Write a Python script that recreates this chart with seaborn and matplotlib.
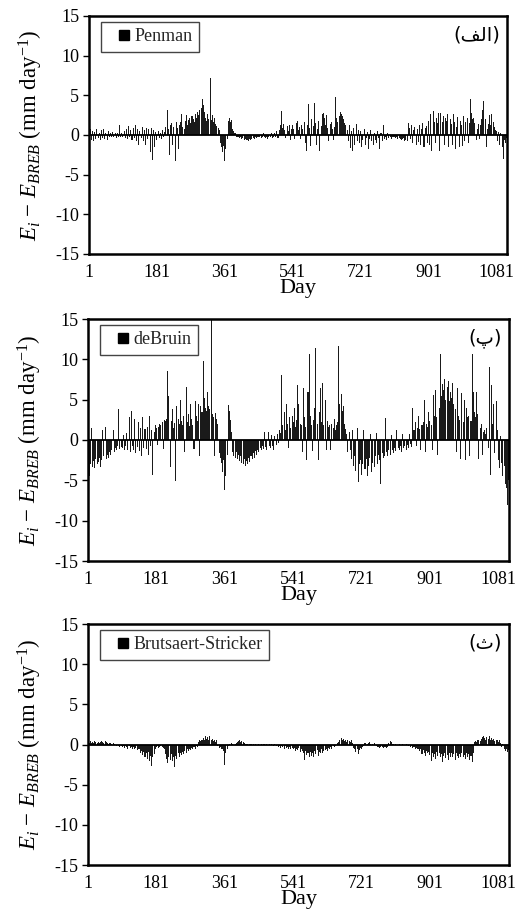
import numpy as np
import pandas as pd
import matplotlib
matplotlib.use("Agg")
import matplotlib.pyplot as plt
import seaborn as sns
from matplotlib.lines import Line2D

# ---- data: one value every 3 days (day 1, 4, 7, ...) ----
penman = [
    -1.5, 0.8, -0.6, 0.5, -0.7, 0.4, -0.5, 0.7, -0.4, 0.3,
    -0.6, 0.6, -0.4, 0.7, -0.5, 0.3, -0.6, 0.5, -0.3, 0.2,
    -0.3, 0.4, -0.2, 0.3, -0.4, 0.2, -0.3, 1.3, -0.2, 0.3,
    -0.3, 0.5, -0.4, 0.8, -0.5, 1.1, -0.3, 0.6, -0.6, 0.9,
    -0.4, 1.3, -0.7, 0.8, -1.3, 0.5, -0.4, 1.0, -0.8, 0.6,
    -1.2, 0.9, -0.5, 0.7, -2.1, 0.9, -3.2, 0.6, -1.5, 0.4,
    -0.6, 0.5, -0.4, 0.3, -0.5, 0.6, -0.3, 0.4, 1.0, 3.2,
    0.8, -2.5, 1.2, 1.5, -1.2, 1.0, -3.3, 1.6, 0.9, -1.8,
    1.2, 1.6, 2.6, 1.0, 0.8, 1.8, 2.5, 1.3, 1.9, 2.2,
    1.5, 2.4, 2.0, 1.7, 2.6, 2.1, 2.9, 2.5, 3.1, 3.4,
    4.6, 3.8, 2.9, 2.2, 1.8, 2.6, 2.0, 7.2, 1.9, 2.5,
    1.6, 2.2, 1.4, 1.1, 0.9, 0.6, -1.0, -1.5, -2.2, -1.4,
    -3.3, -1.8, -0.5, 1.8, 2.1, 1.6, 1.9, 0.8, 0.5, 0.2,
    -0.2, -0.3, -0.2, -0.4, -0.3, -0.5, -0.4, -0.6, -0.5, -0.6,
    -0.6, -0.7, -0.5, -0.6, -0.5, -0.4, -0.5, -0.3, -0.4, -0.3,
    -0.3, -0.2, -0.4, -0.3, 0.3, -0.2, -0.4, -0.3, -0.5, -0.2,
    -0.3, 0.2, -0.4, -0.2, 0.3, -0.3, 0.5, -0.4, 0.6, 1.2,
    3.0, 0.9, 1.4, 0.6, -0.4, 1.1, 0.5, 1.3, -0.6, 0.8,
    1.2, 0.7, -0.5, 1.5, 1.8, 0.6, 1.0, -0.5, 1.3, 0.7,
    1.6, -1.0, -2.0, 1.2, 3.9, 0.9, -1.4, 2.0, 1.1, 4.0,
    1.5, -1.2, 0.8, 1.8, -2.0, 1.1, 2.6, 2.8, 2.2, 1.2,
    2.5, 0.9, -0.8, 1.4, 1.6, 0.8, -0.6, 1.0, 4.8, 2.1,
    1.6, 2.4, 2.9, 2.7, 2.4, 2.0, 1.5, 1.2, 0.6, -0.8,
    1.3, -1.6, 0.5, -2.0, 0.9, -1.2, 1.4, -0.7, 0.6, -1.0,
    0.5, -1.5, -0.6, 0.8, -1.2, -0.4, 0.4, -1.8, -0.5, 0.6,
    -0.8, -1.3, 0.3, -0.6, -1.0, 0.5, -0.4, -1.8, 0.3, -0.7,
    1.2, -0.5, -0.3, -0.6, 0.3, -0.4, -0.3, -0.5, -0.2, -0.3,
    -0.3, -0.4, -0.3, -0.5, -0.4, -0.5, -0.6, -0.5, -0.4, -0.7,
    -0.6, -0.8, 1.5, 0.9, -0.5, 1.2, -1.0, 0.6, 1.0, -1.3,
    0.8, -0.9, 1.2, -1.2, 0.7, 1.5, -1.5, 0.9, 1.1, -1.0,
    1.8, -1.2, 2.7, -2.0, 3.0, 1.6, -1.0, 2.2, 1.5, 2.8,
    -2.0, 2.8, 1.7, 2.4, -1.3, 2.1, 1.8, 2.6, -1.5, 2.0,
    1.4, -1.2, 2.7, 1.6, -1.8, 1.0, 2.3, -1.5, 1.8, 1.2,
    -1.4, 2.4, -0.8, 1.6, 2.2, -1.0, 1.5, 4.5, 2.8, 2.0,
    2.2, 1.5, -0.6, 0.8, 1.4, -0.5, 1.2, 2.0, 3.2, 4.3,
    2.0, -1.5, 0.8, 1.4, 2.5, 1.2, 2.6, 1.6, 1.0, 0.6,
    0.5, -0.8, 0.4, -1.2, 0.3, -1.5, -3.0, -0.6, -1.0, -0.4,
]

debruin = [
    -5.8, -4.5, -3.0, 1.5, -3.3, -2.6, -3.5, -2.4, -3.0, -2.7,
    -2.2, -3.3, -2.5, 1.3, -2.0, 1.6, -2.4, -1.8, -2.2, -1.5,
    -1.8, -1.2, 1.2, -1.5, -1.0, -1.3, -0.8, 3.9, -1.1, -0.9,
    -1.0, 0.6, -1.3, -0.7, 0.9, -1.2, 2.8, -1.5, 3.6, -0.8,
    -1.2, 2.6, -1.6, -0.9, 2.2, -1.4, 1.5, -2.0, 2.8, -1.0,
    1.4, -1.1, 1.6, -1.8, 3.0, -0.8, 1.2, -4.3, 1.0, 1.8,
    1.5, -0.6, 1.6, 2.0, 1.8, 2.2, -1.1, 2.5, 2.4, 2.6,
    8.6, 5.5, -3.4, 2.4, 3.8, 1.5, 2.1, -5.1, 4.2, 2.6,
    2.0, 5.0, 2.4, 1.8, 3.0, -1.5, 6.6, 2.2, 3.2, 1.7,
    4.5, 2.6, 1.8, -1.1, 4.8, 3.0, 2.4, 4.5, -2.0, 4.2,
    3.5, 9.8, 5.2, 4.0, 3.6, 6.0, 4.2, 3.8, 15.0, 3.2,
    2.8, -2.0, 3.4, 2.6, 2.0, -1.6, -2.2, -2.8, -4.0, -2.5,
    -6.2, -4.5, -1.8, 4.3, 3.6, 2.5, 1.0, -1.5, -2.0, -2.2,
    -1.5, -2.4, -1.8, -2.6, -2.0, -2.8, -3.0, -2.4, -3.2, -2.6,
    -3.0, -2.2, -2.7, -2.0, -2.4, -1.6, -2.2, -1.4, -1.8, -1.2,
    -1.5, -1.0, -1.3, -0.8, -1.1, 1.0, -0.9, -1.2, 1.0, -0.7,
    -1.0, 0.6, -0.8, -1.2, 0.5, -0.6, 0.8, -0.4, 1.2, 0.9,
    8.0, 1.8, 3.5, 1.2, 4.5, 2.0, -1.0, 2.8, 1.5, 3.0,
    2.2, 4.0, 1.6, 2.5, 6.8, 4.5, 2.0, 1.8, -1.5, 6.4,
    2.8, 1.6, -2.5, 6.0, 10.7, 3.0, 1.8, -1.4, 2.5, 4.0,
    11.4, 2.0, -2.5, 3.5, 6.4, 2.2, 7.1, 1.8, 5.0, -1.3,
    2.4, 1.6, 1.8, -1.2, 2.0, 1.5, 2.6, 1.2, 1.8, 2.2,
    11.7, 4.5, 5.7, 3.6, 4.2, 2.0, 1.4, 0.8, -1.5, 1.0,
    -1.2, -2.4, 1.2, -3.2, -2.0, -3.8, 1.5, -5.2, -3.0, -2.5,
    -4.3, -3.0, 1.3, -3.6, -2.4, -4.5, -3.2, -2.2, 0.8, -4.0,
    -2.8, -3.4, -2.0, 0.9, -3.0, -1.8, -2.5, -5.4, -1.6, -2.2,
    -2.0, 2.7, -1.5, -2.0, -1.3, -1.8, 0.6, -1.2, -1.6, -1.0,
    -1.4, 1.3, -1.0, -1.2, -0.8, -1.5, 0.7, -1.0, -0.8, -1.2,
    -0.6, -1.0, 0.8, -0.5, -0.9, 4.0, 1.2, 2.2, -0.8, 1.5,
    3.0, 1.4, -1.2, 1.8, 2.2, 5.0, -1.5, 2.0, 1.6, 3.5,
    2.4, 1.8, -1.3, 5.6, 3.0, 6.2, 2.8, -1.8, 4.0, 10.6,
    5.5, 7.0, 6.2, 7.6, 5.0, 6.6, 7.3, 4.8, 6.0, 5.2,
    7.1, 4.5, 3.8, -1.5, 6.5, 3.0, 2.5, -2.4, 5.8, 2.2,
    5.0, -2.5, 4.0, 2.8, 3.0, -2.0, 2.4, 10.7, 6.0, 3.5,
    2.8, 6.0, 3.2, -2.4, 1.5, 2.0, -1.8, 1.0, 1.2, 0.8,
    1.5, -1.0, 9.0, -4.3, 6.8, 2.0, 4.5, -1.6, 4.8, 1.2,
    -2.5, -3.5, 0.5, -2.8, -4.5, -3.2, -5.5, -6.0, -8.0, -5.0,
]

brutsaert = [
    0.3, 0.2, 0.4, 0.2, 0.3, 0.2, 0.4, 0.3, 0.2, 0.3,
    0.2, 0.3, 0.4, 0.3, 0.2, 0.4, 0.3, 0.2, 0.1, 0.2,
    0.2, 0.1, 0.2, 0.1, -0.1, -0.2, -0.1, -0.2, -0.3, -0.2,
    -0.3, -0.2, -0.4, -0.2, -0.3, -0.5, -0.2, -0.4, -0.3, -0.6,
    -0.3, -0.5, -0.4, -0.7, -0.5, -0.6, -1.0, -0.8, -1.3, -0.9,
    -1.5, -1.1, -1.8, -0.9, -2.0, -1.4, -2.7, -1.6, -1.2, -0.6,
    -0.3, -0.2, -0.4, -0.3, -0.2, -0.3, -0.4, -0.6, -1.2, -1.8,
    -2.3, -1.5, -1.9, -1.2, -2.0, -1.6, -2.8, -1.4, -1.8, -1.1,
    -1.6, -1.0, -1.3, -0.9, -1.2, -0.8, -1.0, -0.6, -0.8, -0.5,
    -0.7, -0.4, -0.6, -0.3, -0.5, -0.2, -0.3, 0.3, 0.5, 0.4,
    0.6, 0.8, 0.5, 1.1, 0.7, 0.9, 0.6, 1.0, 0.5, 0.7,
    0.4, 0.6, 0.3, 0.5, -0.2, -0.4, -0.3, -0.5, -0.6, -0.8,
    -2.6, -1.0, -0.5, -0.2, 0.1, -0.1, 0.2, 0.1, -0.1, 0.1,
    0.2, 0.3, 0.4, 0.5, 0.3, 0.4, 0.3, 0.2, 0.1, 0.1,
    0.1, -0.1, 0.1, 0.1, -0.1, 0.1, -0.1, 0.1, 0.0, -0.1,
    0.1, -0.1, 0.1, -0.1, 0.1, 0.1, -0.1, 0.1, -0.1, 0.1,
    -0.1, 0.1, -0.1, -0.2, 0.1, -0.2, -0.1, -0.3, -0.2, -0.4,
    -0.2, -0.3, -0.5, -0.2, -0.4, -0.3, -0.6, -0.3, -0.5, -0.4,
    -0.6, -0.4, -0.8, -0.5, -0.7, -0.4, -0.9, -0.6, -0.8, -1.0,
    -1.9, -0.8, -1.3, -1.0, -1.6, -0.9, -1.4, -1.1, -1.5, -0.8,
    -1.2, -0.7, -1.4, -0.9, -1.1, -0.6, -1.0, -0.8, -0.7, -0.5,
    -0.8, -0.4, -0.6, -0.3, -0.5, -0.2, -0.3, -0.2, -0.1, 0.2,
    0.3, 0.5, 0.8, 0.6, 0.7, 0.4, 0.5, 0.3, 0.6, 0.4,
    0.3, 0.5, 0.2, -0.4, -0.6, -0.9, -0.5, -1.2, -0.7, -0.4,
    -0.6, -0.3, -0.2, 0.2, -0.1, 0.1, 0.2, 0.3, 0.1, -0.1,
    0.1, 0.2, -0.1, -0.2, -0.3, -0.3, -0.4, -0.3, -0.3, -0.4,
    -0.3, -0.3, -0.4, -0.3, 0.2, 0.4, 0.3, 0.1, 0.1, -0.1,
    0.1, 0.0, -0.1, 0.1, 0.0, -0.1, 0.1, -0.1, 0.0, 0.1,
    -0.1, -0.2, -0.1, -0.3, -0.2, -0.4, -0.3, -0.5, -0.4, -0.6,
    -0.5, -0.8, -0.6, -1.2, -0.7, -1.0, -1.4, -0.8, -1.1, -0.9,
    -1.3, -2.0, -1.0, -1.5, -1.2, -1.8, -0.9, -1.4, -1.1, -1.6,
    -1.2, -2.2, -1.4, -1.0, -1.7, -1.3, -1.9, -1.1, -1.5, -1.0,
    -1.6, -1.2, -1.9, -1.0, -1.4, -1.7, -1.2, -1.5, -1.0, -1.6,
    -1.3, -1.8, -1.1, -1.5, -1.2, -1.9, -1.4, -2.2, -1.0, 0.3,
    0.4, 0.3, 0.5, 0.6, 0.4, 0.7, 0.9, 1.05, 0.8, 0.6,
    0.9, 0.7, 1.0, 0.6, 0.8, 0.5, 0.7, 0.4, 0.6, 0.5,
    0.3, 0.5, 0.2, -0.3, 0.1, -0.5, -0.8, -0.6, -0.9, -0.7,
]

series_names = ["Penman", "deBruin", "Brutsaert-Stricker"]
# Persian panel tags, written in visual (left-to-right) order with joined forms
panel_tags = ["(\uFED2\uFEDF\u0627)", "(\u067E)", "(\u062B)"]
xtick_values = [1, 181, 361, 541, 721, 901, 1081]
ytick_values = [-15, -10, -5, 0, 5, 10, 15]

sns.set_style("white")
plt.rcParams["font.family"] = ["Liberation Serif", "DejaVu Sans"]
plt.rcParams["mathtext.fontset"] = "custom"
plt.rcParams["mathtext.rm"] = "Liberation Serif"
plt.rcParams["mathtext.it"] = "Liberation Serif:italic"
plt.rcParams["mathtext.bf"] = "Liberation Serif:bold"
plt.rcParams["axes.unicode_minus"] = False

W, H = 524, 913
fig = plt.figure(figsize=(W / 100, H / 100), dpi=100)
boxes = [(89, 16, 507, 254), (88, 319, 509, 561), (88, 624, 509, 865)]

for vals, name, tag, (l, t, r, b) in zip([penman, debruin, brutsaert],
                                         series_names, panel_tags, boxes):
    ax = fig.add_axes([l / W, 1 - b / H, (r - l) / W, (b - t) / H])
    days = np.arange(1, 1 + 3 * len(vals), 3)
    df = pd.DataFrame({"Day": days, "diff": vals})
    sns.barplot(data=df, x="Day", y="diff", native_scale=True, color="#1a1a1a",
                saturation=1, width=0.9, linewidth=0, errorbar=None, ax=ax)
    ax.axhline(0, color="black", lw=1.3, zorder=3)
    ax.set_xlim(1, 1109)
    ax.set_ylim(-15, 15)
    ax.set_xticks(xtick_values)
    ax.set_xticklabels([str(v) for v in xtick_values])
    ax.set_yticks(ytick_values)
    ax.set_yticklabels([str(v) for v in ytick_values])
    ax.tick_params(axis="x", length=0, pad=7, labelsize=13, colors="black")
    ax.tick_params(axis="y", left=True, length=4, width=1, direction="out",
                   pad=3, labelsize=13, colors="black")
    for sp in ax.spines.values():
        sp.set_linewidth(1.8)
        sp.set_color("black")
    ax.set_xlabel("Day", fontsize=16, labelpad=-1, color="black")
    ax.set_ylabel(r"$E_i$ $-$ $E_{BREB}$ (mm day$^{\mathrm{-1}}$)",
                  fontsize=16.5, color="black")
    ax.yaxis.set_label_coords(-0.105, 0.5)

    handle = Line2D([], [], marker="s", color="black", linestyle="none",
                    markersize=6.5)
    leg = ax.legend([handle], [name], loc="upper left",
                    bbox_to_anchor=(12 / (r - l), 1 - 6 / (b - t)),
                    borderaxespad=0, fontsize=13, frameon=True,
                    fancybox=False, framealpha=1, edgecolor="#444444",
                    handlelength=1.8, handletextpad=-0.3, borderpad=0.35)
    leg.get_frame().set_linewidth(1.0)

    ax.text(0.983, 0.92, tag, transform=ax.transAxes, ha="right", va="center",
            fontsize=14, family=["DejaVu Sans"], color="black")

fig.savefig("out.png", dpi=100)
